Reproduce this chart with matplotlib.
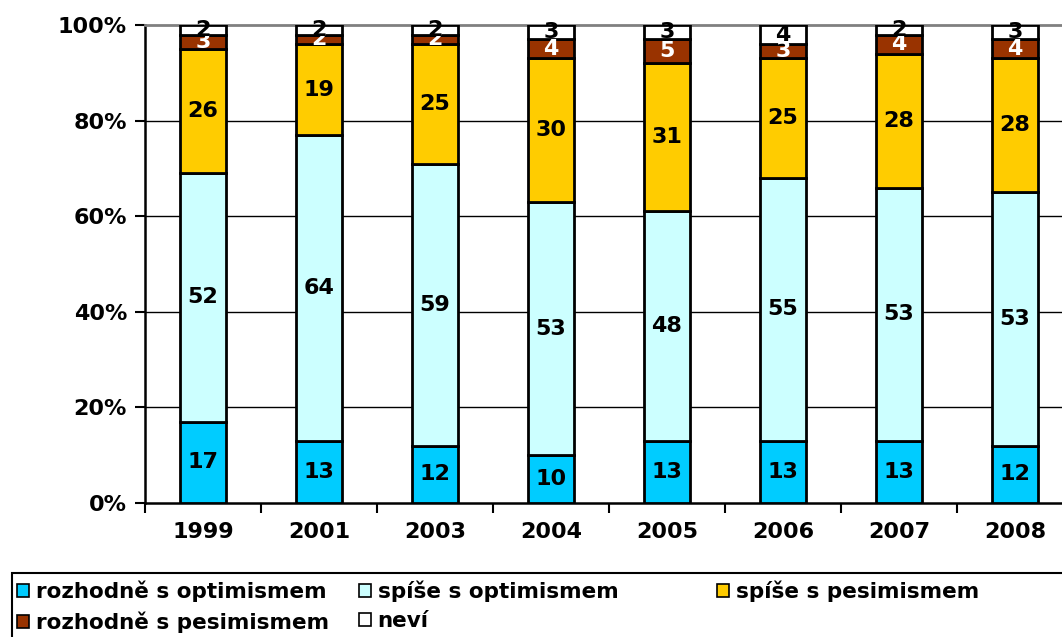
import numpy as np
import matplotlib.pyplot as plt
from matplotlib.patches import Rectangle, Patch

years = ["1999", "2001", "2003", "2004", "2005", "2006", "2007", "2008"]
rozhodne_opt = [17, 13, 12, 10, 13, 13, 13, 12]
spise_opt = [52, 64, 59, 53, 48, 55, 53, 53]
spise_pes = [26, 19, 25, 30, 31, 25, 28, 28]
rozhodne_pes = [3, 2, 2, 4, 5, 3, 4, 4]
nevi = [2, 2, 2, 3, 3, 4, 2, 3]

series = [rozhodne_opt, spise_opt, spise_pes, rozhodne_pes, nevi]
names = ["rozhodně s optimismem", "spíše s optimismem", "spíše s pesimismem",
         "rozhodně s pesimismem", "neví"]
colors = ["#00CCFF", "#CCFFFF", "#FFCC00", "#993300", "#FFFFFF"]
text_colors = ["black", "black", "black", "white", "black"]

plt.rcParams['font.family'] = 'DejaVu Sans'
plt.rcParams['font.weight'] = 'bold'

fig = plt.figure(figsize=(10.62, 6.37), dpi=100)
ax = fig.add_axes([145/1062, 1 - 503/637, 928/1062, 478/637])

x = np.arange(len(years))
bottom = np.zeros(len(years))
for vals, name, c, tc in zip(series, names, colors, text_colors):
    vals = np.array(vals)
    ax.bar(x, vals, 0.4, bottom=bottom, color=c, edgecolor="black",
           linewidth=2, label=name, zorder=3)
    for xi, v, b in zip(x, vals, bottom):
        ax.text(xi, b + v / 2, str(v), ha="center", va="center", color=tc,
                fontsize=16, fontweight="bold", zorder=4)
    bottom += vals

ax.set_xlim(-0.5, len(years) - 0.5)
ax.set_ylim(0, 100)
ax.set_yticks([0, 20, 40, 60, 80, 100])
ax.set_yticklabels([f"{v}%" for v in [0, 20, 40, 60, 80, 100]])
ax.set_xticks(x)
ax.set_xticklabels(years)
ax.set_xticks(np.arange(-0.5, len(years)), minor=True)
ax.tick_params(axis="x", which="major", length=0, pad=14, labelsize=16)
ax.tick_params(axis="x", which="minor", length=7, width=1.5, direction="out")
ax.tick_params(axis="y", length=7, width=1.5, labelsize=16, pad=6)
for v in [20, 40, 60, 80]:
    ax.axhline(v, color="black", linewidth=1, zorder=1)

ax.spines["top"].set_color("#808080")
ax.spines["top"].set_linewidth(2)
ax.spines["right"].set_visible(False)
ax.spines["left"].set_linewidth(1.8)
ax.spines["bottom"].set_linewidth(1.8)

# legend frame
fig.patches.append(Rectangle((12/1062, -0.05), 1.1, (637 - 573)/637 + 0.05,
                             transform=fig.transFigure, facecolor="white",
                             edgecolor="black", linewidth=1.5))

handles = [Patch(facecolor=c, edgecolor="black", linewidth=1.2) for c in colors]
cols = [([0, 3], 14), ([1, 4], 356), ([2], 714)]
for idx, xpos in cols:
    leg = fig.legend([handles[i] for i in idx], [names[i] for i in idx],
                     loc="upper left", bbox_to_anchor=(xpos/1062, 1 - 577/637),
                     frameon=False, fontsize=15.5, handlelength=0.55, handleheight=0.55,
                     handletextpad=0.3, labelspacing=0.45, borderpad=0.15,
                     borderaxespad=0)
    for t in leg.get_texts():
        t.set_fontweight("bold")

fig.savefig("out.png", dpi=100)
